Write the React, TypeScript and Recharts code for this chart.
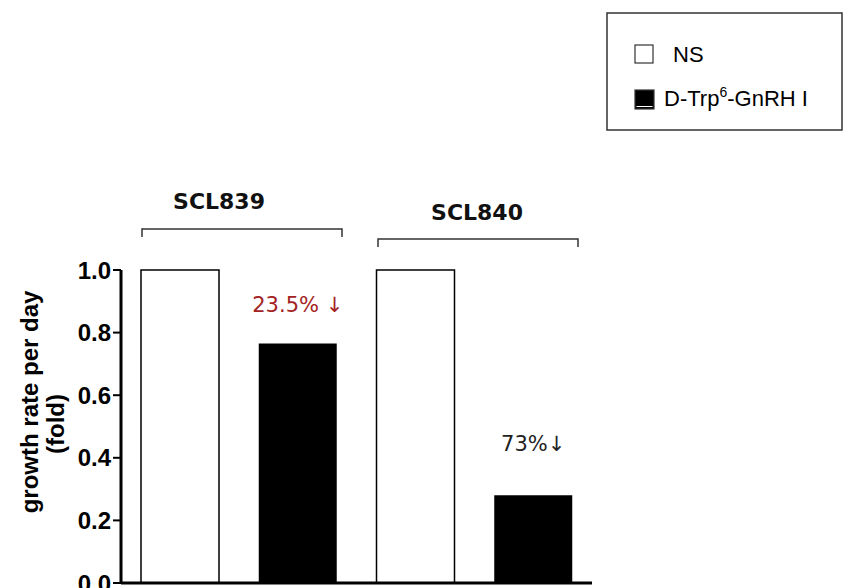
import { BarChart, Bar, XAxis, YAxis, Cell, LabelList } from "recharts";

// categories: cell line x treatment
const categories = ["SCL839 NS", "SCL839 D-Trp6", "SCL840 NS", "SCL840 D-Trp6"];
const treatments = ["NS", "D-Trp6", "NS", "D-Trp6"];
const growthRate = [1.0, 0.765, 1.0, 0.28];
const annotations = ["", "23.5% \u2193", "", "73%\u2193"];
const yTicks = [0, 0.2, 0.4, 0.6, 0.8, 1.0];

const data = categories.map((name, i) => ({
  name,
  treatment: treatments[i],
  value: growthRate[i],
  note: annotations[i],
}));

const annotationStyle = [
  { color: "#a32222", lift: 39 },
  { color: "#a32222", lift: 39 },
  { color: "#222", lift: 51 },
  { color: "#222", lift: 51 },
];

const NoteLabel = (props: any) => {
  const { x, y, width, index, value } = props;
  if (!value) return null;
  const s = annotationStyle[index];
  return (
    <text
      x={x + width / 2}
      y={y - s.lift}
      textAnchor="middle"
      dominantBaseline="central"
      fontFamily="DejaVu Sans"
      fontSize={21}
      fill={s.color}
    >
      {value}
    </text>
  );
};

const AxisTitle = () => (
  <g fontFamily="Liberation Sans" fontWeight="bold" fontSize={24} fill="#000">
    <text
      transform="translate(29,402) rotate(-90)"
      textAnchor="middle"
      dominantBaseline="central"
    >
      growth rate per day
    </text>
    <text
      transform="translate(55,424) rotate(-90)"
      textAnchor="middle"
      dominantBaseline="central"
    >
      (fold)
    </text>
  </g>
);

export default function App() {
  return (
    <div
      style={{
        position: "absolute",
        left: 0,
        top: 0,
        width: 843,
        height: 588,
        overflow: "hidden",
        background: "#fff",
      }}
    >
      <div style={{ position: "absolute", left: 0, top: 0 }}>
        <BarChart
          width={843}
          height={640}
          data={data}
          margin={{ top: 270, right: 251, bottom: 47, left: 0 }}
        >
          <XAxis
            dataKey="name"
            tick={false}
            tickLine={false}
            height={10}
            axisLine={{ stroke: "#000", strokeWidth: 3 }}
          />
          <YAxis
            domain={[0, 1]}
            ticks={yTicks}
            width={121}
            interval={0}
            tickFormatter={(v: number) => v.toFixed(1)}
            tick={{
              fontSize: 24,
              fontWeight: "bold",
              fontFamily: "Liberation Sans",
              fill: "#000",
            }}
            tickSize={8}
            tickMargin={2}
            tickLine={{ stroke: "#000", strokeWidth: 2 }}
            axisLine={{ stroke: "#000", strokeWidth: 3 }}
          />
          <Bar dataKey="value" barSize={78} isAnimationActive={false}>
            {data.map((d, i) => (
              <Cell
                key={i}
                fill={d.treatment === "NS" ? "#fff" : "#000"}
                stroke="#000"
                strokeWidth={d.treatment === "NS" ? 1.5 : 0}
              />
            ))}
            <LabelList dataKey="note" content={NoteLabel} />
          </Bar>
        </BarChart>
      </div>
      <svg
        width={843}
        height={588}
        style={{ position: "absolute", left: 0, top: 0, pointerEvents: "none" }}
      >
        <AxisTitle />
        {/* group brackets */}
        <g fontFamily="DejaVu Sans" fontWeight="bold" fontSize={22} fill="#111">
          <text x={219} y={201} textAnchor="middle" dominantBaseline="central">
            SCL839
          </text>
          <text x={477} y={212} textAnchor="middle" dominantBaseline="central">
            SCL840
          </text>
        </g>
        <path
          d="M142,237 V229 H342 V237"
          fill="none"
          stroke="#333"
          strokeWidth={1.5}
        />
        <path
          d="M378,247 V239 H578 V247"
          fill="none"
          stroke="#333"
          strokeWidth={1.5}
        />
        {/* legend */}
        <rect x={607} y={13} width={235} height={117} fill="#fff" stroke="#333" strokeWidth={1.5} />
        <rect x={635} y={45} width={18} height={18} fill="#fff" stroke="#333" strokeWidth={1.2} />
        <rect x={635} y={90} width={19} height={19} fill="#000" stroke="#333" strokeWidth={1.2} />
        <line x1={636.5} y1={106.5} x2={652.5} y2={106.5} stroke="#fff" strokeWidth={1} />
        <g fontFamily="Liberation Sans" fontSize={22} fill="#000">
          <text x={673} y={54} dominantBaseline="central">NS</text>
          <text x={664} y={106}>
            D-Trp
            <tspan dy={-9} fontSize={14}>6</tspan>
            <tspan dy={9}>-GnRH I</tspan>
          </text>
        </g>
      </svg>
    </div>
  );
}
